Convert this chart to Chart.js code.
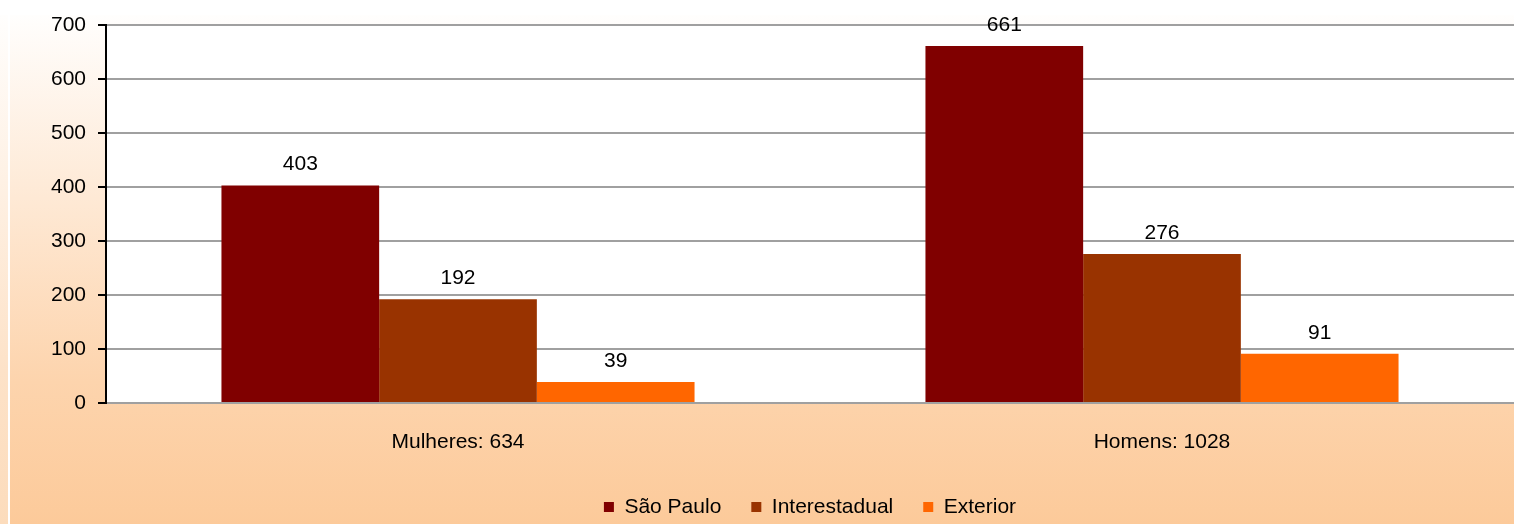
<!DOCTYPE html>
<html>
<head>
<meta charset="utf-8">
<title>Origem por sexo</title>
<script src="https://cdn.jsdelivr.net/npm/chart.js@4/dist/chart.umd.min.js"></script>
<style>
  html, body { margin: 0; padding: 0; background: #fff; }
  #wrap { width: 1514px; height: 524px; position: relative; }
</style>
</head>
<body>
<div id="wrap"><canvas id="origemChart" width="1514" height="524"></canvas></div>
<script>
// categorias e séries
const categorias = ['Mulheres: 634', 'Homens: 1028'];
const series = ['São Paulo', 'Interestadual', 'Exterior'];
const saoPaulo = [403, 661];
const interestadual = [192, 276];
const exterior = [39, 91];
const cores = ['#800000', '#993300', '#ff6600'];
const yMax = 700;
const yStep = 100;

const FONTE = "'Liberation Sans', Arial, sans-serif";
const TAM = 21;
const LEG_PAD = 30;

// fundo em degradê branco -> pêssego, área de plotagem branca
const fundoPlugin = {
  id: 'fundo',
  beforeDraw(chart) {
    const ctx = chart.ctx;
    const w = chart.width, h = chart.height;
    ctx.save();
    ctx.fillStyle = '#ffffff';
    ctx.fillRect(0, 0, w, h);

    const faixa = ctx.createLinearGradient(0, 15, 0, h);
    faixa.addColorStop(0, '#fffefd');
    faixa.addColorStop(0.7, '#fde2c8');
    faixa.addColorStop(1, '#fcdcbc');
    ctx.fillStyle = faixa;
    ctx.fillRect(0, 15, 8, h - 15);

    const grad = ctx.createLinearGradient(0, 15, 0, h);
    grad.addColorStop(0, '#fffefd');
    grad.addColorStop(0.72, '#fdd4ad');
    grad.addColorStop(1, '#fcca9a');
    ctx.fillStyle = grad;
    ctx.fillRect(10, 15, w - 10, h - 15);

    const a = chart.chartArea;
    ctx.fillStyle = '#ffffff';
    ctx.fillRect(a.left, a.top, a.right - a.left, a.bottom - a.top);
    ctx.restore();
  }
};

// legenda centrada sob a área de plotagem, com os itens em y = 507
const legendaPlugin = {
  id: 'legendaRodape',
  afterLayout(chart) {
    const lg = chart.legend;
    if (!lg) return;
    const dy = (507 - LEG_PAD - TAM / 2) - lg.top;
    lg.top += dy;
    lg.bottom += dy;
    const a = chart.chartArea;
    const dx = (a.left + a.right) / 2 - (lg.left + lg.right) / 2;
    lg.left += dx;
    lg.right += dx;
  }
};

// valores acima de cada barra
const rotulosPlugin = {
  id: 'rotulos',
  afterDatasetsDraw(chart) {
    const ctx = chart.ctx;
    ctx.save();
    ctx.font = TAM + 'px ' + FONTE;
    ctx.fillStyle = '#000';
    ctx.textAlign = 'center';
    ctx.textBaseline = 'middle';
    chart.data.datasets.forEach((ds, i) => {
      chart.getDatasetMeta(i).data.forEach((bar, j) => {
        ctx.fillText(String(ds.data[j]), bar.x, bar.y - 21);
      });
    });
    ctx.restore();
  }
};

const dados = [saoPaulo, interestadual, exterior];

new Chart(document.getElementById('origemChart'), {
  type: 'bar',
  data: {
    labels: categorias,
    datasets: series.map((nome, i) => ({
      label: nome,
      data: dados[i],
      backgroundColor: cores[i],
      borderWidth: 0,
      categoryPercentage: 0.672,
      barPercentage: 1.0
    }))
  },
  options: {
    responsive: false,
    animation: false,
    layout: { padding: { top: 25, right: 0, left: 0, bottom: 0 } },
    plugins: {
      legend: {
        position: 'bottom',
        labels: {
          boxWidth: 10,
          boxHeight: 10,
          padding: LEG_PAD,
          color: '#000',
          font: { family: FONTE, size: TAM }
        }
      },
      tooltip: { enabled: false }
    },
    scales: {
      x: {
        grid: { display: false },
        border: { display: true, color: '#a0a0a0', width: 2 },
        ticks: {
          color: '#000',
          padding: 19,
          font: { family: FONTE, size: TAM }
        },
        afterFit(scale) {
          const lg = scale.chart.legend;
          scale.height = 524 - 403 - (lg ? lg.height : 0);
        }
      },
      y: {
        min: 0,
        max: yMax,
        grid: {
          color: '#a0a0a0',
          lineWidth: 2,
          tickColor: '#000',
          tickLength: 8,
          tickWidth: 2
        },
        border: { display: true, color: '#000', width: 2 },
        ticks: {
          stepSize: yStep,
          color: '#000',
          padding: 12,
          font: { family: FONTE, size: TAM }
        },
        afterFit(scale) { scale.width = 106; }
      }
    }
  },
  plugins: [fundoPlugin, legendaPlugin, rotulosPlugin]
});
</script>
</body>
</html>
